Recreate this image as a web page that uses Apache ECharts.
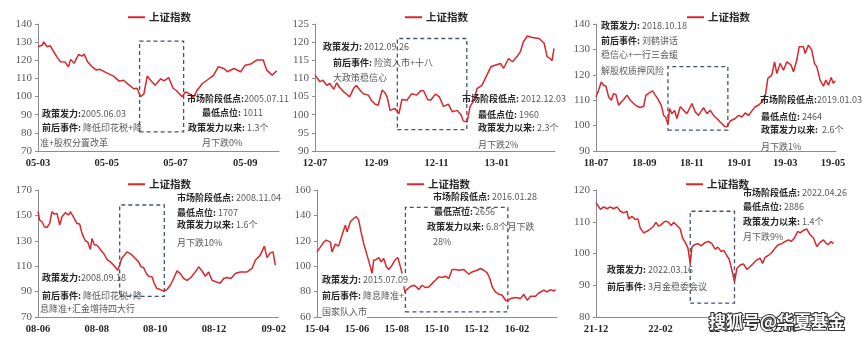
<!DOCTYPE html>
<html><head><meta charset="utf-8">
<script src="https://cdn.jsdelivr.net/npm/echarts@6/dist/echarts.min.js"></script>
<style>html,body{margin:0;padding:0;background:#fff}#c{width:865px;height:341px}</style>
</head><body><div id="c"></div>
<script>
const seriesName = '上证指数';

// Panel 1: 2005 (x = days since first axis date)
const p1Day = [0,4,5,8,11,14,17,20,24,27,29,32,36,39,41,44,48,52,55,61,67,72,76,81,85,88,91,94,97,100,104,109,112,116,120,123,128,131,134,138,141,146,150,156,160,165,168,174,180,184,189,194,200,203,208,212];
const p1Val = [127.5,128.4,130.2,127.5,128,124.7,121.6,119.2,119,116.4,120.5,118.3,123.2,122.3,123.4,119.2,116.4,114.6,115,113.1,111.3,108.5,109,106.3,104.3,104.6,99.9,101.3,111.3,109,106.3,109.8,108.7,110.5,104.6,103.2,99.9,102.6,101.7,99.5,103.2,107.2,109,111.8,116.4,115.5,113.7,115.5,113.7,117.3,117.9,120.1,120.1,114.6,111.8,114.2];
const p1TickDay = [0,61,122,184];
const p1TickLabel = ['05-03','05-05','05-07','05-09'];
const p1Box = [90.2,129.3,80.5,130.6];

// Panel 2: 2012-2013
const p2Day = [0,2,5,8,12,15,19,22,25,29,32,35,39,42,46,49,54,57,61,64,68,71,73,76,81,85,88,93,98,103,107,110,114,117,122,126,130,135,139,144,148,150,154,157,161,164,169,174,178,183,188,191,196,200,205,208,211,215,220,227,232,235,238,240,242];
const p2Val = [110.9,111.2,109.1,109.5,108.1,108.6,107,108.8,107.5,106.3,105.7,104.9,107.2,108.1,106.6,105.8,105.4,104,102.9,102.6,106.8,106,104.9,101.2,101.7,100.3,104.2,104,105.8,105.4,106.6,106.6,104.2,104,105.7,104.9,102.3,102.9,100.8,101.2,99.9,98.3,98,102.2,104,107.2,108.1,110.9,113.2,113.7,114.1,112.8,115.5,114.6,116.2,117.4,120.1,121.7,121.3,121,119.7,116,115.5,114.9,118.3];
const p2TickDay = [0,62,123,184];
const p2TickLabel = ['12-07','12-09','12-11','13-01'];
const p2Box = [83.4,153.7,95.9,121];

// Panel 3: 2018-2019
const p3Day = [0,3.4,6.8,9.8,12.8,16.2,19.7,22.6,25.6,29.1,32.5,35.5,39.7,44,48.3,52.6,56.8,61.1,64.1,68.4,72.6,76.1,80.3,83.8,86.8,89.7,92.3,94.4,97.4,100.9,103.8,108.1,112.4,116.7,123.1,127.4,131.6,138,142.3,146.6,150.9,155.1,159.4,165,168,172.2,178.6,182.9,187.2,191.5,195.7,200,204.3,208.5,212.8,217.1,220.5,225.6,229.1,232.1,236.3,240.6,244.9,250.4,253.4,257.7,260.7,266.2,268.4,272.6,276.9,280.3,283.3,287.6,291.9,294.9,298.3,301.7,304.7,306.8];
const p3Val = [111.3,114,117.2,115.9,115.5,111.3,110,112.6,112.2,108,109.3,110.3,112,110,108.7,107.6,107.1,107.6,112,112.9,113.7,112,110,108,104,103.2,100.5,106.7,104.7,106,102.8,107.4,106,104.7,108.7,105.4,104,107.1,104.7,106,104,102.8,101.4,99.7,99.5,101.8,102.8,104,103.4,105,104,105.8,107.4,108,109.3,111.3,118.6,119.9,125.1,120.5,124.5,121.8,125.1,123.8,121.2,125.8,131,131,128.4,131.7,129.7,124.5,123.2,117.9,115.5,117.9,115.9,118.9,116.6,117.6];
const p3TickDay = [0,62,123,184,243,304];
const p3TickLabel = ['18-07','18-09','18-11','19-01','19-03','19-05'];
const p3Box = [92.3,169.2,98.2,123.2];

// Panel 4: 2008-2009
const p4Day = [0,1.7,4.2,6.6,9.4,12.1,14.6,17,19.8,22.5,24.9,28.4,31.9,33.6,37.1,40.5,43.3,45.7,49.2,51.6,54.4,56.1,58.6,61.3,64.8,68.3,71.7,75.2,78.7,83,85,87,92.5,96.7,101.2,104.6,107.1,109.8,112.6,115,118.5,120.9,123.7,127.2,130.6,134.1,137.6,141,144.5,148,151.4,154.9,159,163.5,167,170.5,173.9,177.4,180.9,185.4,189.5,193,196.5,200.6,205.1,210.3,217.3,222.5,225.9,231.1,235.3,238,241.5,244.3,246.7];
const p4Val = [152.9,146.3,145,141.1,140.5,143.7,152.9,151,151.6,142.4,148.9,152.1,150.3,152.9,148.4,143.7,143.2,135.8,130,129.2,123.2,131.8,126.6,126.6,123.2,120,115.3,113.4,110.8,106.8,105.5,116,121.3,119.5,116.1,113.4,109.5,108.9,104.2,102.1,101.6,96.3,92.4,91.6,90.5,91.6,95,100.3,106.3,104.2,100.3,98.9,101.1,105.5,109.5,106.3,102.1,105.5,98.9,97.6,96.8,100.3,101.1,100.3,104.2,105.5,105.5,108.2,114.7,118.7,125.8,116.8,120.5,121.3,110.8];
const p4TickDay = [0,61,122,183,245];
const p4TickLabel = ['08-06','08-08','08-10','08-12','09-02'];
const p4Box = [84.9,131.3,86.3,158.2];

// Panel 5: 2015-2016
const p5Day = [0,5.1,10.2,14.3,20.4,23,28.1,33.2,38.3,43.4,45.9,51,56.1,60.2,63.8,67.3,71.4,76.5,81.6,84.2,86.7,90.8,94.4,98,102,106.1,109.7,114.8,119.9,123.5,127.6,131.6,133.7,138,143,148,152,155.6,160.7,165.8,170.9,176,181.1,186.2,191.3,196.4,201.5,206.6,211.7,216.8,224.5,232.1,237.2,244.9,250,255.1,260.2,264.3,267.9,272.9,278.1,283.2,288.3,291.8,295.9,303.6,311.2,316.3,321.4,326.5,334.2,339.3,346.9,352,357.1,362.2,364.8];
const p5Val = [111.3,115,119,120.5,119,111.3,117.4,115.8,124.5,132.4,127,135,137.6,139,136.3,127,117.9,108.7,99.5,94.2,104.7,105.3,106.8,103.4,106.1,99.5,97.4,100.8,105.3,106.8,99.5,91.6,79.7,82,84,85,83.7,81.6,85,83.2,83.7,86.3,88.9,91.6,91.1,92.1,90.3,97.4,97.4,96.8,97.4,93.7,95.5,96.8,98.2,96.8,94.7,90.3,83.7,79.7,77.9,77.1,73.2,72.6,74.5,75.3,74.5,77.9,73.2,76.3,76.3,78.9,81.1,79.7,81.6,80.5,81.6];
const p5TickDay = [0,61,122,183,244,306];
const p5TickLabel = ['15-04','15-06','15-08','15-10','15-12','16-02'];
const p5Box = [135.2,291.8,64,146.3];

// Panel 6: 2021-2022
const p6Day = [0,1.9,4.2,7.4,10.6,13.8,17,20.2,23.4,26.6,29.8,31.4,34.6,37.8,40.4,42.6,45.8,49,52.2,55.4,57.7,60.3,62.8,65.1,67.3,69.9,72.4,74.7,77.9,81.1,83.3,85.9,88.5,90.7,92.3,94.9,98.1,101.3,105.1,108.3,111.5,114.7,117.3,120.5,122.8,126,128.2,130.8,133.3,135.6,138.8,142,145.2,148.4,151.6,154.8,158,160.3,162.8,166.7,169.2,172.4,175.6,178.8,182.1,185.3,187.8,191,194.2,196.5,199.7,202.9,206.1,209.3,212.5,215.7,218.9,221.2,223.7,226.3,228.5];
const p6Val = [116,115.4,113.9,114.7,114.1,114.7,114.1,114.7,113.3,112.8,113.3,110.9,111.7,110.7,110.9,108,106.5,107,107.7,108.6,109.8,108.6,109.1,109.8,110.2,109.8,108.8,109.8,108.8,107.7,104.9,103.5,101.7,96.9,102,102.8,103.1,102.4,103.5,103.8,103.1,101.4,102,100.6,101,99.3,98.2,94.8,91.1,95.3,96.4,96.7,95,95.9,96.9,98,98.5,96.9,98.8,99.6,100.3,101.7,102.8,103.1,103.8,104.3,103.8,104.9,107,106.5,107.3,107.7,105.9,104.9,102.2,103.5,104.3,103.3,102.8,103.8,103.1];
const p6TickDay = [0,62,121,182];
const p6TickLabel = ['21-12','22-02','22-04','22-06'];
const p6Box = [90.7,133.3,84.4,113.3];

const panels = [
  {day:p1Day, val:p1Val, ticks:p1TickDay, labels:p1TickLabel, box:p1Box, yMin:70, yMax:140, yInt:10, xMax:214, grid:{left:38, top:24, width:241, height:127}, legend:[123,7]},
  {day:p2Day, val:p2Val, ticks:p2TickDay, labels:p2TickLabel, box:p2Box, yMin:90, yMax:125, yInt:5, xMax:243, grid:{left:315, top:24, width:240, height:127}, legend:[400,7]},
  {day:p3Day, val:p3Val, ticks:p3TickDay, labels:p3TickLabel, box:p3Box, yMin:90, yMax:140, yInt:10, xMax:308, grid:{left:596, top:24, width:240, height:127}, legend:[682,7]},
  {day:p4Day, val:p4Val, ticks:p4TickDay, labels:p4TickLabel, box:p4Box, yMin:70, yMax:170, yInt:20, xMax:250, grid:{left:38, top:190, width:240.5, height:127}, legend:[123,174]},
  {day:p5Day, val:p5Val, ticks:p5TickDay, labels:p5TickLabel, box:p5Box, yMin:60, yMax:160, yInt:20, xMax:367, grid:{left:317, top:190, width:240, height:127}, legend:[402,174]},
  {day:p6Day, val:p6Val, ticks:p6TickDay, labels:p6TickLabel, box:p6Box, yMin:80, yMax:120, yInt:10, xMax:231, grid:{left:596, top:190, width:240, height:127}, legend:[681,174]}
];

// annotation texts: [x, yCenter, bold label, plain value, whiteBg]
const notes = [
  [42,114,'政策发力:','2005.06.03'],
  [42,128,'前后事件: ','降低印花税+降'],
  [40,143,'','准+股权分置改革'],
  [187,99,'市场阶段低点:','2005.07.11'],
  [202,113,'最低点位: ','1011'],
  [188,128,'政策发力以来: ','1.3个'],
  [202,143,'','月下跌0%'],
  [323,47,'政策发力: ','2012.09.26'],
  [333,63,'前后事件: ','险资入市+十八'],
  [333,78,'','大政策稳信心'],
  [462,99,'市场阶段低点: ','2012.12.03'],
  [478,115,'最低点位: ','1960'],
  [478,128,'政策发力以来: ','2.3个'],
  [478,145,'','月下跌2%'],
  [601,26,'政策发力: ','2018.10.18'],
  [601,41,'前后事件: ','刘鹤讲话'],
  [601,55,'','稳信心+一行三会缓'],
  [601,71,'','解股权质押风险'],
  [760,100,'市场阶段低点:','2019.01.03'],
  [761,117,'最低点位: ','2464'],
  [761,130,'政策发力以来:  ','2.6个'],
  [761,147,'','月下跌1%'],
  [177,198,'市场阶段低点: ','2008.11.04'],
  [177,213,'最低点位: ','1707'],
  [177,225,'政策发力以来: ','1.6个'],
  [177,243,'','月下跌10%'],
  [42,278,'政策发力:','2008.09.18'],
  [42,296,'前后事件: ','降低印花税+降'],
  [40,309,'','息降准+汇金增持四大行'],
  [433,197,'市场阶段低点: ','2016.01.28'],
  [434,212,'最低点位: ','2656'],
  [427,227,'政策发力以来: ','6.8个月下跌'],
  [433,242,'','28%'],
  [322,280,'政策发力: ','2015.07.09',true],
  [322,296,'前后事件: ','降息降准+',true],
  [322,312,'','国家队入市',true],
  [743,193,'市场阶段低点: ','2022.04.26'],
  [743,207,'最低点位: ','2886'],
  [743,222,'政策发力以来: ','1.4个'],
  [743,237,'','月下跌9%'],
  [607,270,'政策发力: ','2022.03.16'],
  [607,287,'前后事件: ','3月金稳委会议']
];

const CJK = '"Noto Sans CJK SC", "Noto Sans", sans-serif';
const SERIF = '"Liberation Serif", "DejaVu Serif", serif';
const RED = '#d7282e';
const BOX = '#44546a';

const option = {
  animation: false,
  backgroundColor: '#ffffff',
  grid: panels.map(p => Object.assign({containLabel:false}, p.grid)),
  legend: panels.map(p => ({
    left: p.legend[0], top: p.legend[1], data:[seriesName], icon:'rect',
    itemWidth:17, itemHeight:2, selectedMode:false,
    textStyle:{fontSize:10.5, fontWeight:'bold', color:'#262626', fontFamily:CJK, padding:[0,0,0,-1]}
  })),
  xAxis: panels.map((p,i) => ({
    type:'value', gridIndex:i, min:0, max:p.xMax,
    axisLine:{show:true, lineStyle:{color:'#8c8c8c', width:1}},
    axisTick:{show:false},
    splitLine:{show:false},
    axisLabel:{
      customValues:p.ticks,
      formatter:(v) => { const k = p.ticks.indexOf(v); return k >= 0 ? p.labels[k] : ''; },
      margin:7, fontFamily:SERIF, fontWeight:'bold', fontSize:10.5, color:'#262626'
    }
  })),
  yAxis: panels.map((p,i) => ({
    type:'value', gridIndex:i, min:p.yMin, max:p.yMax, interval:p.yInt,
    axisLine:{show:true, lineStyle:{color:'#8c8c8c', width:1}},
    axisTick:{show:true, length:3, lineStyle:{color:'#8c8c8c'}},
    splitLine:{show:false},
    axisLabel:{margin:6, fontFamily:SERIF, fontSize:11, color:'#595959'}
  })),
  series: panels.map((p,i) => ({
    name:seriesName, type:'line', xAxisIndex:i, yAxisIndex:i,
    data:p.day.map((d,k) => [d, p.val[k]]),
    showSymbol:false, symbol:'none',
    lineStyle:{color:RED, width:1.5}, itemStyle:{color:RED},
    markArea:{
      silent:true,
      itemStyle:{color:'rgba(0,0,0,0)', borderColor:BOX, borderWidth:1.3, borderType:[4,3]},
      data:[[{xAxis:p.box[0], yAxis:p.box[2]}, {xAxis:p.box[1], yAxis:p.box[3]}]]
    }
  })),
  graphic: notes.map(n => ({
    type:'text', x:n[0], y:n[1], z:100,
    style:{
      text:(n[2] ? '{b|' + n[2] + '}' : '') + '{n|' + n[3] + '}',
      verticalAlign:'middle', align:'left',
      backgroundColor: n[4] ? '#fff' : 'transparent',
      rich:{
        b:{fontFamily:CJK, fontSize:9, fontWeight:'bold', fill:'#262626', lineHeight:13},
        n:{fontFamily:CJK, fontSize:9, fill:'#595959', lineHeight:13}
      }
    }
  })).concat([{
    type:'text', x:709, y:322, z:200,
    style:{text:'搜狐号@华夏基金', verticalAlign:'middle', align:'left',
      font:'bold 17px "Noto Sans CJK SC"', fill:'#ffffff', stroke:'#333333', lineWidth:2.2}
  }])
};

const chart = echarts.init(document.getElementById('c'), null, {renderer:'canvas'});
chart.setOption(option);
</script>
</body></html>
